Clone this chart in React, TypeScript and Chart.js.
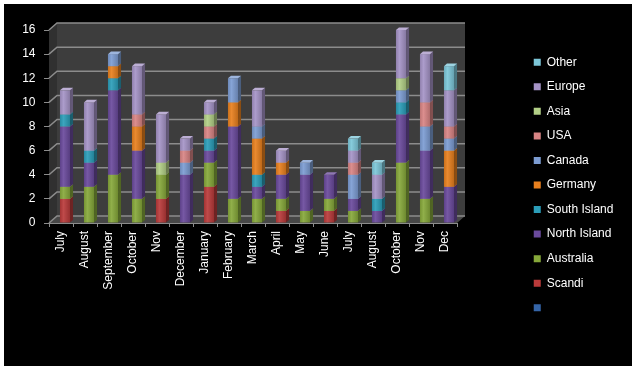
import React, { useEffect, useRef } from "react";
import { Chart, registerables } from "chart.js";

Chart.register(...registerables);

const categories = [
  "July", "August", "September", "October", "Nov", "December", "January", "February",
  "March", "April", "May", "June", "July", "August", "October", "Nov", "Dec",
];

const seriesNames = ["", "Scandi", "Australia", "North Island", "South Island", "Germany", "Canada", "USA", "Asia", "Europe", "Other"];

const blankSeries = [0, 0, 0, 0, 0, 0, 0, 0, 0, 0, 0, 0, 0, 0, 0, 0, 0];
const scandi = [2, 0, 0, 0, 2, 0, 3, 0, 0, 1, 0, 1, 0, 0, 0, 0, 0];
const australia = [1, 3, 4, 2, 2, 0, 2, 2, 2, 1, 1, 1, 1, 0, 5, 2, 0];
const northIsland = [5, 2, 7, 4, 0, 4, 1, 6, 1, 2, 3, 2, 1, 1, 4, 4, 3];
const southIsland = [1, 1, 1, 0, 0, 0, 1, 0, 1, 0, 0, 0, 0, 1, 1, 0, 0];
const germany = [0, 0, 1, 2, 0, 0, 0, 2, 3, 1, 0, 0, 0, 0, 0, 0, 3];
const canada = [0, 0, 1, 0, 0, 1, 0, 2, 1, 0, 1, 0, 2, 0, 1, 2, 1];
const usa = [0, 0, 0, 1, 0, 1, 1, 0, 0, 0, 0, 0, 1, 0, 0, 2, 1];
const asia = [0, 0, 0, 0, 1, 0, 1, 0, 0, 0, 0, 0, 0, 0, 1, 0, 0];
const europe = [2, 4, 0, 4, 4, 1, 1, 0, 3, 1, 0, 0, 1, 2, 4, 4, 3];
const other = [0, 0, 0, 0, 0, 0, 0, 0, 0, 0, 0, 0, 1, 1, 0, 0, 2];

const seriesValues = [blankSeries, scandi, australia, northIsland, southIsland, germany, canada, usa, asia, europe, other];

const seriesColors = [
  "#3565A8", "#B93A3A", "#86A83A", "#6A4A9C", "#2B9DB8", "#E8801E",
  "#7C9CD2", "#D88484", "#B2CF86", "#A593C6", "#7CC6D8",
];

const yMin = 0;
const yMax = 16;
const yStep = 2;

const FONT = "'Liberation Sans', Arial, sans-serif";

function mix(hex: string, target: number, t: number): string {
  const n = parseInt(hex.slice(1), 16);
  const r = (n >> 16) & 255, g = (n >> 8) & 255, b = n & 255;
  const f = (c: number) => Math.round(c + (target - c) * t);
  return `rgb(${f(r)},${f(g)},${f(b)})`;
}

const WALL_DX = 8;
const WALL_DY = -7;
const BAR_DX = 3;
const BAR_DY = -2.6;
const BAR_SHIFT = 4;
const LEGEND_LEFT = 517.2;
const LEGEND_WIDTH = 110;

const threeD = {
  id: "threeD",
  afterLayout(chart: any) {
    const lg = chart.legend;
    if (lg) {
      lg.left = LEGEND_LEFT;
      lg.width = LEGEND_WIDTH;
      lg.right = LEGEND_LEFT + LEGEND_WIDTH;
      lg.maxWidth = 300;
    }
  },
  beforeDatasetsDraw(chart: any) {
    const ctx = chart.ctx as CanvasRenderingContext2D;
    const a = chart.chartArea;
    const ys = chart.scales.y;
    const poly = (pts: number[][], fill: string) => {
      ctx.beginPath();
      ctx.moveTo(pts[0][0], pts[0][1]);
      for (let i = 1; i < pts.length; i++) ctx.lineTo(pts[i][0], pts[i][1]);
      ctx.closePath();
      ctx.fillStyle = fill;
      ctx.fill();
    };
    ctx.save();
    poly([[a.left, a.top], [a.left + WALL_DX, a.top + WALL_DY], [a.left + WALL_DX, a.bottom + WALL_DY], [a.left, a.bottom]], "#303030");
    poly([[a.left + WALL_DX, a.top + WALL_DY], [a.right + WALL_DX, a.top + WALL_DY], [a.right + WALL_DX, a.bottom + WALL_DY], [a.left + WALL_DX, a.bottom + WALL_DY]], "#3d3d3d");
    poly([[a.left, a.bottom], [a.left + WALL_DX, a.bottom + WALL_DY], [a.right + WALL_DX, a.bottom + WALL_DY], [a.right, a.bottom]], "#474747");
    ctx.strokeStyle = "#8c8c8c";
    ctx.lineWidth = 1.5;
    ys.ticks.forEach((t: any) => {
      const py = ys.getPixelForValue(t.value);
      ctx.beginPath();
      ctx.moveTo(a.left, py);
      ctx.lineTo(a.left + WALL_DX, py + WALL_DY);
      ctx.lineTo(a.right + WALL_DX, py + WALL_DY);
      ctx.stroke();
    });
    chart.data.datasets.forEach((ds: any, i: number) => {
      const meta = chart.getDatasetMeta(i);
      const base = ds.backgroundColor as string;
      meta.data.forEach((el: any) => {
        const p = el.getProps(["x", "y", "base", "width"], true);
        const top = Math.min(p.y, p.base);
        const bottom = Math.max(p.y, p.base);
        if (bottom - top < 0.5) return;
        const left = p.x - p.width / 2 + BAR_SHIFT;
        const right = left + p.width;
        const g = ctx.createLinearGradient(left, 0, right, 0);
        g.addColorStop(0, mix(base, 0, 0.12));
        g.addColorStop(0.35, mix(base, 255, 0.08));
        g.addColorStop(1, mix(base, 0, 0.18));
        ctx.fillStyle = g;
        ctx.fillRect(left, top, right - left, bottom - top);
        poly([[right, top], [right + BAR_DX, top + BAR_DY], [right + BAR_DX, bottom + BAR_DY], [right, bottom]], mix(base, 0, 0.4));
        poly([[left, top], [left + BAR_DX, top + BAR_DY], [right + BAR_DX, top + BAR_DY], [right, top]], mix(base, 255, 0.25));
      });
    });
    ctx.restore();
    return false;
  },
};

export default function App() {
  const ref = useRef<HTMLCanvasElement | null>(null);
  useEffect(() => {
    document.body.style.margin = "0";
    const canvas = ref.current;
    if (!canvas) return;
    const datasets = seriesNames.map((name, i) => ({
      label: name,
      data: seriesValues[i],
      backgroundColor: seriesColors[i],
      borderWidth: 0,
      stack: "s",
    }));
    const chart = new Chart(canvas, {
      type: "bar",
      data: { labels: categories, datasets },
      plugins: [threeD],
      options: {
        responsive: false,
        animation: false,
        events: [],
        datasets: { bar: { categoryPercentage: 1, barPercentage: 0.42 } },
        layout: { padding: { top: 26, bottom: 26, left: 0, right: 115 } },
        plugins: {
          tooltip: { enabled: false },
          title: { display: false },
          legend: {
            position: "right",
            align: "center",
            reverse: true,
            maxWidth: 60,
            labels: {
              boxWidth: 7,
              boxHeight: 7,
              padding: 12.55,
              color: "#ffffff",
              font: { size: 12, family: FONT },
            },
          },
        },
        scales: {
          x: {
            stacked: true,
            z: 1,
            grid: { display: true, drawOnChartArea: false, drawTicks: true, tickLength: 4, color: "#8c8c8c" },
            border: { display: true, color: "#8c8c8c", width: 1 },
            ticks: {
              color: "#ffffff",
              font: { size: 12, family: FONT },
              minRotation: 90,
              maxRotation: 90,
              autoSkip: false,
              padding: 4,
            },
            afterFit: (scale: any) => { scale.height = 117; },
          },
          y: {
            stacked: true,
            min: yMin,
            max: yMax,
            z: 1,
            grid: { display: true, drawOnChartArea: false, drawTicks: true, tickLength: 5, color: "#8c8c8c" },
            border: { display: true, color: "#8c8c8c", width: 1 },
            ticks: {
              stepSize: yStep,
              color: "#ffffff",
              font: { size: 12, family: FONT },
              padding: 8.5,
            },
            afterFit: (scale: any) => { scale.width = 45; },
          },
        },
      } as any,
    });
    return () => chart.destroy();
  }, []);
  return (
    <div style={{ position: "relative", width: 632, height: 369, background: "#ffffff" }}>
      <div style={{ position: "absolute", left: 4, top: 4, width: 628, height: 362, background: "#000000" }}>
        <canvas ref={ref} width={628} height={362} style={{ display: "block" }} />
      </div>
    </div>
  );
}
